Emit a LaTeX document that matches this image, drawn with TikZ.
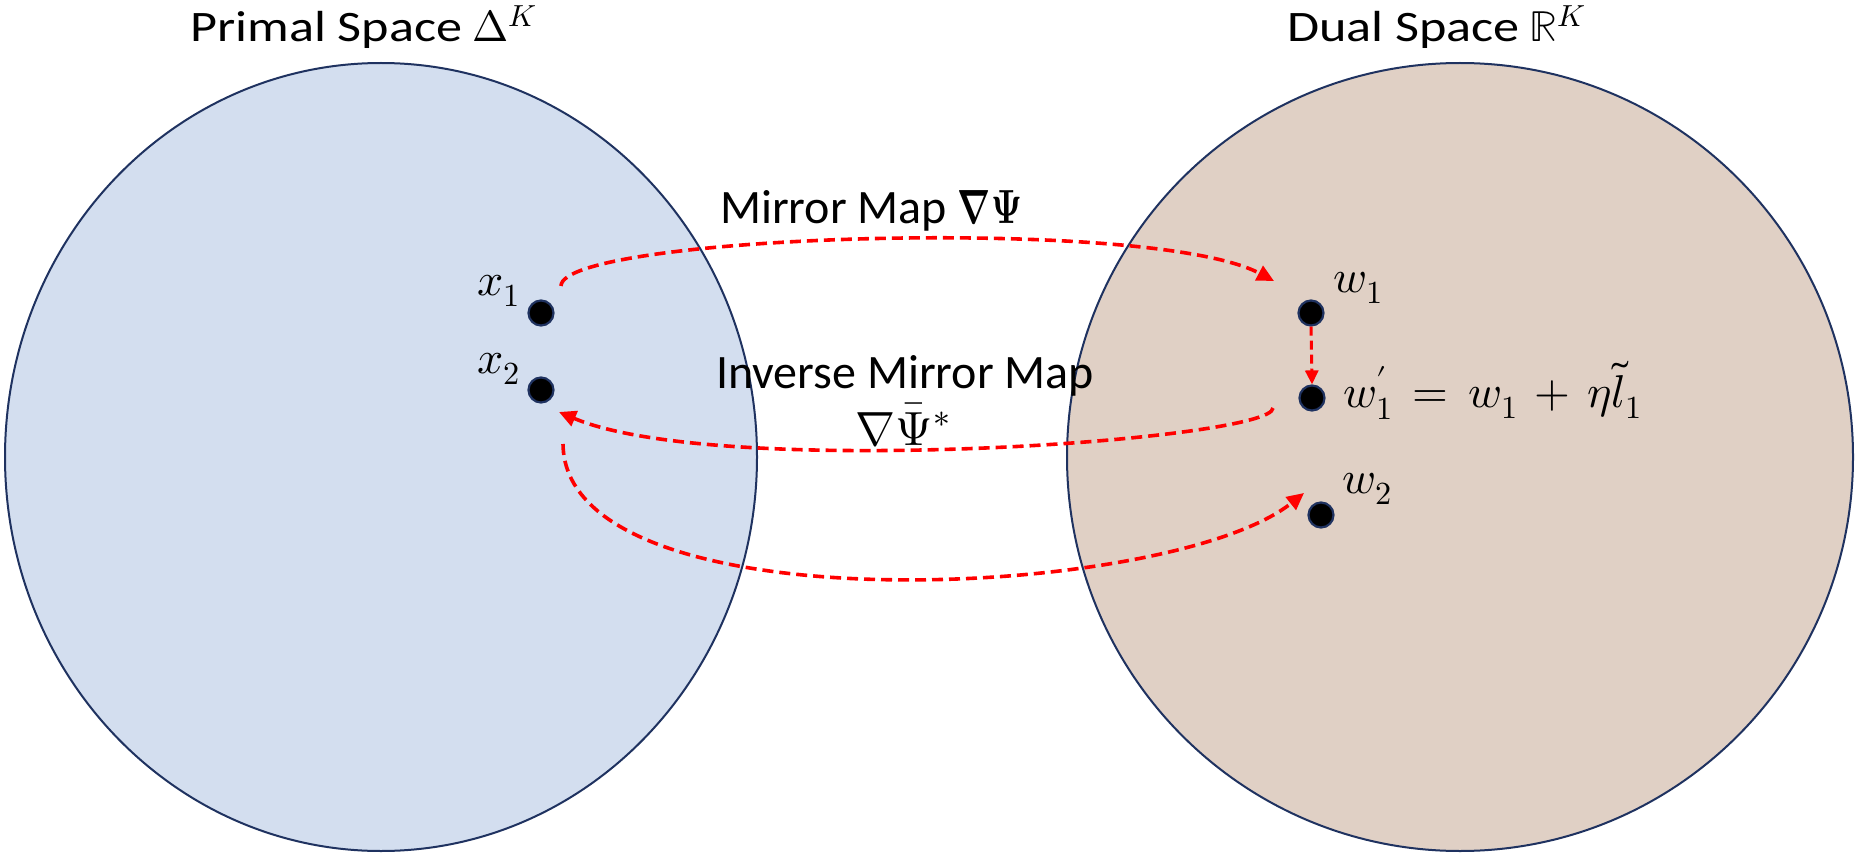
\documentclass[tikz,border=0pt]{standalone}
\usepackage{fontspec}
\usepackage{unicode-math}
\setmainfont{Carlito}
\setmathfont{Latin Modern Math}
\usetikzlibrary{arrows.meta,shapes.geometric}

\definecolor{primalfill}{HTML}{D3DEEF}
\definecolor{dualfill}{HTML}{E0D0C5}
\definecolor{rim}{HTML}{1F3260}
\definecolor{maparrow}{HTML}{FF0000}

% wide title lettering
\newcommand{\widetitle}[1]{\scalebox{1.2}[1]{#1}}
% wider operator spacing for the update rule
\newcommand{\wideop}[1]{\hspace{7pt}#1\hspace{7pt}}

\tikzset{
  spaceblob/.style={ellipse, draw=rim, line width=2pt, inner sep=0pt},
  pointdot/.style={circle, fill=black, draw=rim, line width=2.2pt, minimum size=25pt, inner sep=0pt},
  titletext/.style={anchor=base west, inner sep=0pt, font=\fontsize{43.5}{50}\selectfont},
  maptext/.style={inner sep=0pt, font=\fontsize{48}{57}\selectfont},
  mathlabel/.style={anchor=base west, inner sep=0pt, font=\fontsize{46}{50}\selectfont},
  mapflow/.style={draw=maparrow, line width=3.6pt, dash pattern=on 11pt off 6pt,
    -{Triangle[length=17pt,width=16pt]}},
}

\begin{document}
\begin{tikzpicture}[x=1pt,y=-1pt]
\useasboundingbox (0,0) rectangle (1855,853);

% the two spaces
\node[spaceblob, fill=primalfill, minimum width=752pt, minimum height=788pt] (primal) at (381,457) {};
\node[spaceblob, fill=dualfill, minimum width=786pt, minimum height=788pt] (dual) at (1460,457) {};

% titles
\node[titletext] (primaltitle) at (190,42) {\widetitle{Primal Space} $\Delta^{K}$};
\node[titletext] (dualtitle) at (1287,42) {\widetitle{Dual Space} $\mathbb{R}^{K}$};

% points
\node[pointdot] (x1) at (541,313) {};
\node[pointdot] (x2) at (541,390) {};
\node[pointdot] (w1) at (1311,313) {};
\node[pointdot] (w1p) at (1312,398) {};
\node[pointdot] (w2) at (1321,515) {};

% point labels
\node[mathlabel] (x1lab) at (477,295) {$x_1$};
\node[mathlabel] (x2lab) at (477,373) {$x_2$};
\node[mathlabel] (w1lab) at (1333,292) {$w_1$};
\node[mathlabel] (w1plab) at (1343,407)
  {$w_1^{\prime} \mathrel{\wideop{=}} w_1 \mathbin{\wideop{+}} \eta\tilde{l}_1$};
\node[mathlabel] (w2lab) at (1342,493) {$w_2$};

% map labels
\node[maptext, anchor=base west] (mirrorlab) at (720,223)
  {Mirror Map \scalebox{0.72}[1]{$\symbf{\nabla}\symbf{\Psi}$}};
\node[maptext, anchor=base] (inverselab) at (905,388) {Inverse Mirror Map};
\node[maptext, anchor=base] (inversesym) at (903,445) {$\nabla\bar{\Psi}^{*}$};

% arrow end points
\coordinate (a1s) at (561,286);
\coordinate (a1e) at (1274,281);
\coordinate (a2s) at (1273,408);
\coordinate (a2e) at (559,412);
\coordinate (a3s) at (563,444);
\coordinate (a3e) at (1304,493);

% mirror map, inverse map, gradient step
\draw[mapflow] (a1s) .. controls (561,235) and (1150,215) .. (a1e);
\draw[mapflow] (a2s) .. controls (1273,440) and (720,480) .. (a2e);
\draw[mapflow] (a3s) .. controls (565,630) and (1170,600) .. (a3e);
\draw[mapflow, line width=3pt, dash pattern=on 9pt off 5pt,
  -{Triangle[length=14pt,width=13pt]}] (w1.south) -- (w1p.north);
\end{tikzpicture}
\end{document}
